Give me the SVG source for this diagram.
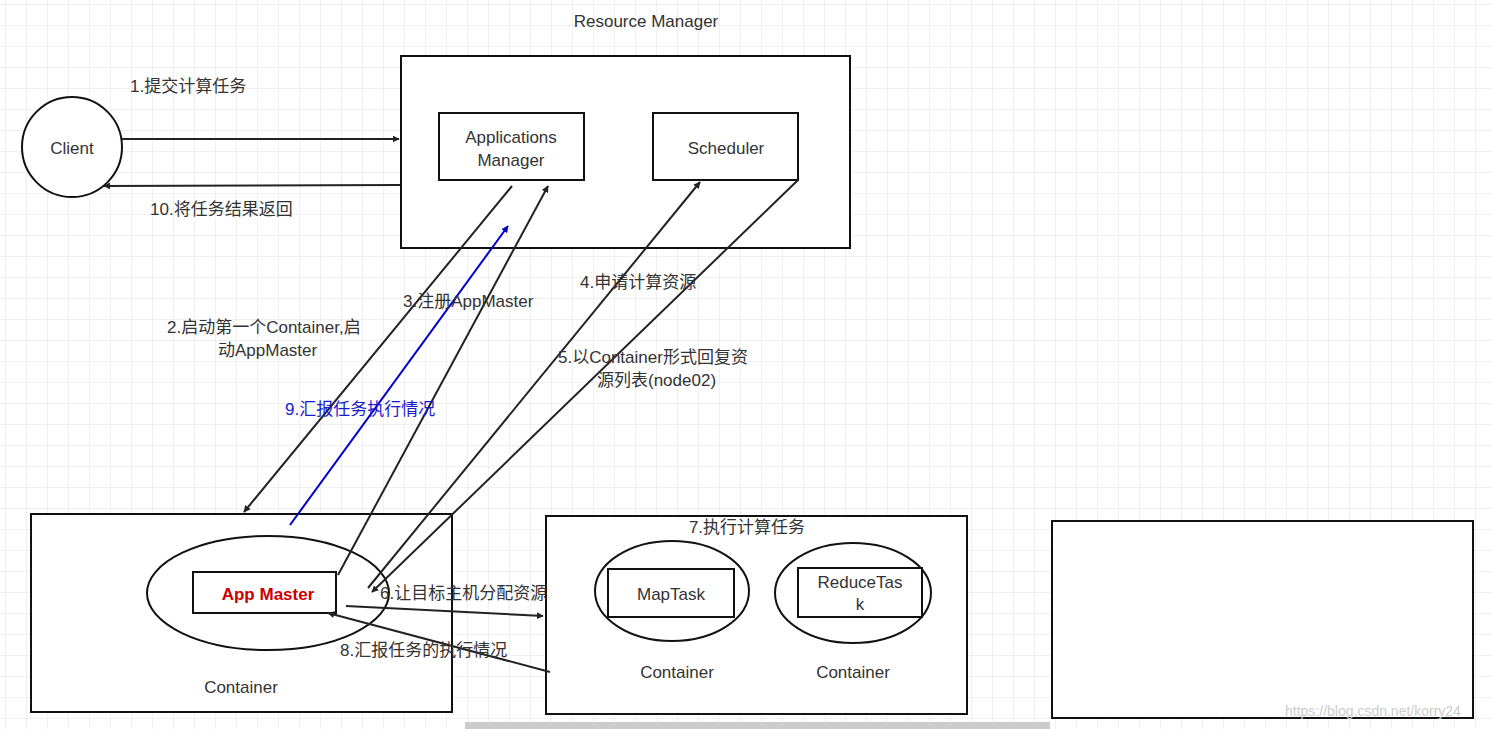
<svg xmlns="http://www.w3.org/2000/svg" width="1492" height="729" viewBox="0 0 1492 729">
<defs>
<pattern id="grid" width="21" height="21" patternUnits="userSpaceOnUse" x="5" y="4">
<path d="M21 0H0V21" fill="none" stroke="#e4e4e4" stroke-width="1"/>
</pattern>
<marker id="a" viewBox="0 0 10 10" refX="9" refY="5" markerWidth="7" markerHeight="7" orient="auto" markerUnits="userSpaceOnUse">
<path d="M0 0L10 5L0 10z" fill="#222"/>
</marker>
<marker id="ab" viewBox="0 0 10 10" refX="9" refY="5" markerWidth="7" markerHeight="7" orient="auto" markerUnits="userSpaceOnUse">
<path d="M0 0L10 5L0 10z" fill="#0000cc"/>
</marker>
<style>
text{font-family:"Liberation Sans","Noto Sans CJK SC",sans-serif;font-size:17px;fill:#333}
.box{fill:#fff;stroke:#111;stroke-width:2}
.c{text-anchor:middle}
.ln{stroke:#222;stroke-width:2;fill:none;marker-end:url(#a)}
</style>
</defs>
<rect width="1492" height="729" fill="#fff"/>
<rect width="1492" height="729" fill="url(#grid)"/>
<g id="rm"><rect class="box" x="401" y="56" width="449" height="192"/><text class="c" x="646" y="27">Resource Manager</text></g>
<g id="client"><circle class="box" cx="72" cy="147" r="50"/><text class="c" x="72" y="154">Client</text></g>
<g id="appsmanager"><rect class="box" x="439" y="113" width="145" height="67"/><text class="c" x="511" y="143">Applications</text><text class="c" x="511" y="166">Manager</text></g>
<g id="scheduler"><rect class="box" x="653" y="113" width="145" height="67"/><text class="c" x="726" y="154">Scheduler</text></g>
<g id="container1"><rect class="box" x="31" y="514" width="421" height="198"/><ellipse class="box" cx="268" cy="593" rx="121" ry="57"/><text class="c" x="241" y="693">Container</text></g>
<g id="appmaster"><rect class="box" x="193" y="572" width="143" height="41"/><text class="c" x="268" y="600" style="fill:#cc0000;font-weight:bold">App Master</text></g>
<g id="container2"><rect class="box" x="546" y="516" width="421" height="198"/><text class="c" x="747" y="533">7.执行计算任务</text>
<ellipse class="box" cx="672" cy="591" rx="77" ry="50"/><ellipse class="box" cx="853" cy="593" rx="78" ry="50"/>
<text class="c" x="677" y="678">Container</text><text class="c" x="853" y="678">Container</text></g>
<g id="maptask"><rect class="box" x="608" y="569" width="126" height="48"/><text class="c" x="671" y="600">MapTask</text></g>
<g id="reducetask"><rect class="box" x="798" y="568" width="124" height="49"/><text class="c" x="860" y="588">ReduceTas</text><text class="c" x="860" y="610">k</text></g>
<g id="empty"><rect class="box" x="1052" y="521" width="421" height="197"/></g>
<g id="connectors">
<line class="ln" x1="122" y1="139" x2="399" y2="139"/>
<line class="ln" x1="400" y1="185" x2="104" y2="186"/>
<line class="ln" x1="512" y1="186" x2="244" y2="512"/>
<line class="ln" x1="338" y1="575" x2="548" y2="186"/>
<line x1="290" y1="525" x2="508" y2="226" stroke="#0000cc" stroke-width="2" marker-end="url(#ab)"/>
<line class="ln" x1="368" y1="588" x2="700" y2="182"/>
<line class="ln" x1="798" y1="180" x2="372" y2="592"/>
<line class="ln" x1="346" y1="606" x2="543" y2="616"/>
<line class="ln" x1="550" y1="672" x2="328" y2="613"/>
</g>
<g id="labels">
<text x="130" y="92">1.提交计算任务</text>
<text x="150" y="215">10.将任务结果返回</text>
<text x="167" y="333">2.启动第一个Container,启</text>
<text x="218" y="356">动AppMaster</text>
<text x="403" y="307">3.注册AppMaster</text>
<text x="580" y="288">4.申请计算资源</text>
<text x="558" y="363">5.以Container形式回复资</text>
<text x="597" y="386">源列表(node02)</text>
<text x="285" y="415" style="fill:#1a1acc">9.汇报任务执行情况</text>
<text x="380" y="599">6.让目标主机分配资源</text>
<text x="340" y="656">8.汇报任务的执行情况</text>
</g>
<rect x="465" y="722" width="585" height="7" fill="#ccc"/>
<text x="1285" y="716" style="fill:#ccc;font-size:14px">https://blog.csdn.net/korry24</text>
</svg>
